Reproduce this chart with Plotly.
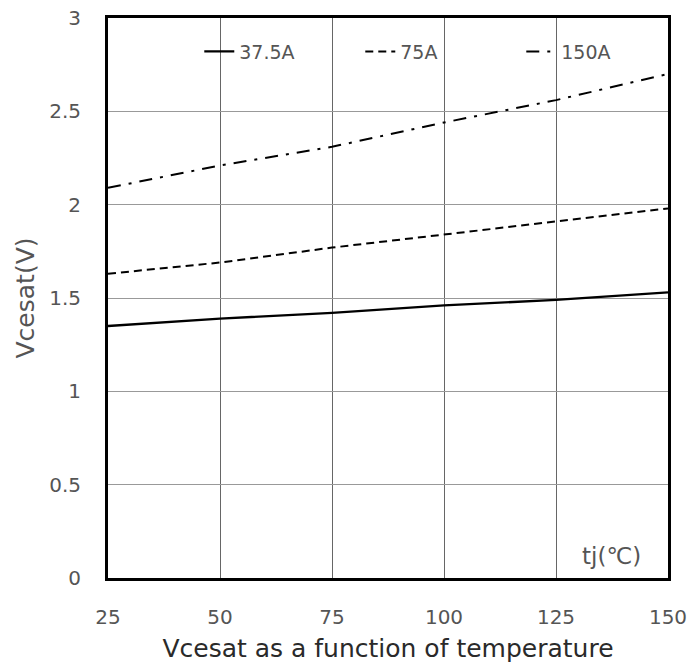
import plotly.graph_objects as go

temps = [25, 50, 75, 100, 125, 150]
v_37_5A = [1.35, 1.39, 1.42, 1.46, 1.49, 1.53]
v_75A = [1.63, 1.69, 1.77, 1.84, 1.91, 1.98]
v_150A = [2.09, 2.21, 2.31, 2.44, 2.56, 2.70]
series_names = ["37.5A", "75A", "150A"]
x_ticks = [25, 50, 75, 100, 125, 150]
y_ticks = [0, 0.5, 1, 1.5, 2, 2.5, 3]
y_tick_text = ["0", "0.5", "1", "1.5", "2", "2.5", "3"]

fig = go.Figure()
styles = [("solid", 2.3), ("8px,5px", 2), ("13px,8px,3px,8px", 2)]
for name, vals, (dash, w) in zip(series_names, [v_37_5A, v_75A, v_150A], styles):
    fig.add_trace(go.Scatter(x=temps, y=vals, mode="lines", name=name,
                             line=dict(color="black", width=w, dash=dash)))

axis_common = dict(showline=True, linecolor="black", linewidth=3, mirror=True,
                   showgrid=True, gridwidth=1.2, automargin=False,
                   ticks="", zeroline=False,
                   tickfont=dict(family="DejaVu Sans", size=20, color="#555"))

fig.update_xaxes(range=[25, 150], tickvals=x_ticks, ticklabelstandoff=19, gridcolor="#666",
                 title=dict(text="Vcesat as a function of temperature",
                            font=dict(family="DejaVu Sans", size=25, color="#2a2a2a"),
                            standoff=12),
                 **axis_common)
fig.update_yaxes(range=[0, 3], tickvals=y_ticks, ticktext=y_tick_text, ticklabelstandoff=20,
                 gridcolor="#999",
                 title=dict(text="Vcesat(V)",
                            font=dict(family="DejaVu Sans", size=25, color="#555"),
                            standoff=8),
                 **axis_common)

fig.add_annotation(x=0.955, y=0.039, xref="paper", yref="paper", text="tj(℃)",
                   showarrow=False, xanchor="right", yanchor="middle",
                   font=dict(family="DejaVu Sans", size=23, color="#555"))

fig.update_layout(
    width=697, height=670,
    margin=dict(l=108, r=29, t=18, b=92),
    plot_bgcolor="white", paper_bgcolor="white",
    legend=dict(orientation="h", x=0.163, y=0.94, xanchor="left", yanchor="middle",
                bgcolor="rgba(0,0,0,0)", entrywidth=116, entrywidthmode="pixels",
                font=dict(family="DejaVu Sans", size=19, color="#555")),
)

fig.write_html("out.html")
